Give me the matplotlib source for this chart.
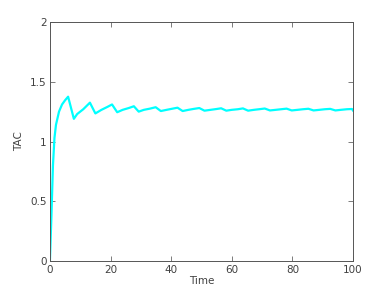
import matplotlib
matplotlib.use("Agg")
import matplotlib.pyplot as plt

# TAC over time
time = [0, 0.5, 1, 1.5, 2, 3, 4, 5, 6, 7.9, 9, 11, 13.2, 15.0, 17, 19, 20.5,
        22.2, 24, 26, 27.7, 29.3, 31, 33, 34.9, 36.6, 38.5, 40.5, 42.1, 43.8,
        45.7, 47.5, 49.3, 51, 53, 55, 56.5, 58.2, 60, 62, 63.7, 65.4, 67.3,
        69, 70.9, 72.6, 74.5, 76.3, 78.1, 79.8, 81.7, 83.5, 85.3, 87, 88.9,
        90.7, 92.5, 94.2, 96, 98, 99.7, 100]
tac = [0, 0.38, 0.8, 1.03, 1.14, 1.25, 1.31, 1.345, 1.375, 1.19, 1.23, 1.27,
       1.325, 1.235, 1.265, 1.29, 1.31, 1.245, 1.265, 1.28, 1.295, 1.25, 1.265,
       1.275, 1.287, 1.255, 1.265, 1.275, 1.283, 1.255, 1.265, 1.273, 1.28,
       1.258, 1.265, 1.272, 1.278, 1.258, 1.265, 1.27, 1.277, 1.258, 1.265,
       1.27, 1.276, 1.26, 1.265, 1.27, 1.275, 1.26, 1.265, 1.27, 1.274, 1.26,
       1.265, 1.27, 1.273, 1.26, 1.265, 1.27, 1.272, 1.26]

xticks = [0, 20, 40, 60, 80, 100]
yticks = [0, 0.5, 1, 1.5, 2]

fig = plt.figure(figsize=(3.9, 2.93), dpi=100)
ax = fig.add_axes([0.128, 0.109, 0.777, 0.816])
ax.plot(time, tac, color="#00ffff", linewidth=1.6)

ax.set_xlim(0, 100)
ax.set_ylim(0, 2)
ax.set_xticks(xticks)
ax.set_yticks(yticks)
ax.set_yticklabels(["0", "0.5", "1", "1.5", "2"])
ax.tick_params(direction="in", top=True, right=True, labelsize=7.5,
               length=3.5, width=0.6, color="#666666", labelcolor="#404040",
               pad=2.5)
for s in ax.spines.values():
    s.set_color("#555555")
    s.set_linewidth(0.7)
ax.set_xlabel("Time", fontsize=7.5, color="#404040", labelpad=1)
ax.set_ylabel("TAC", fontsize=7.5, color="#404040", labelpad=4)

fig.savefig("out.png", dpi=100)
